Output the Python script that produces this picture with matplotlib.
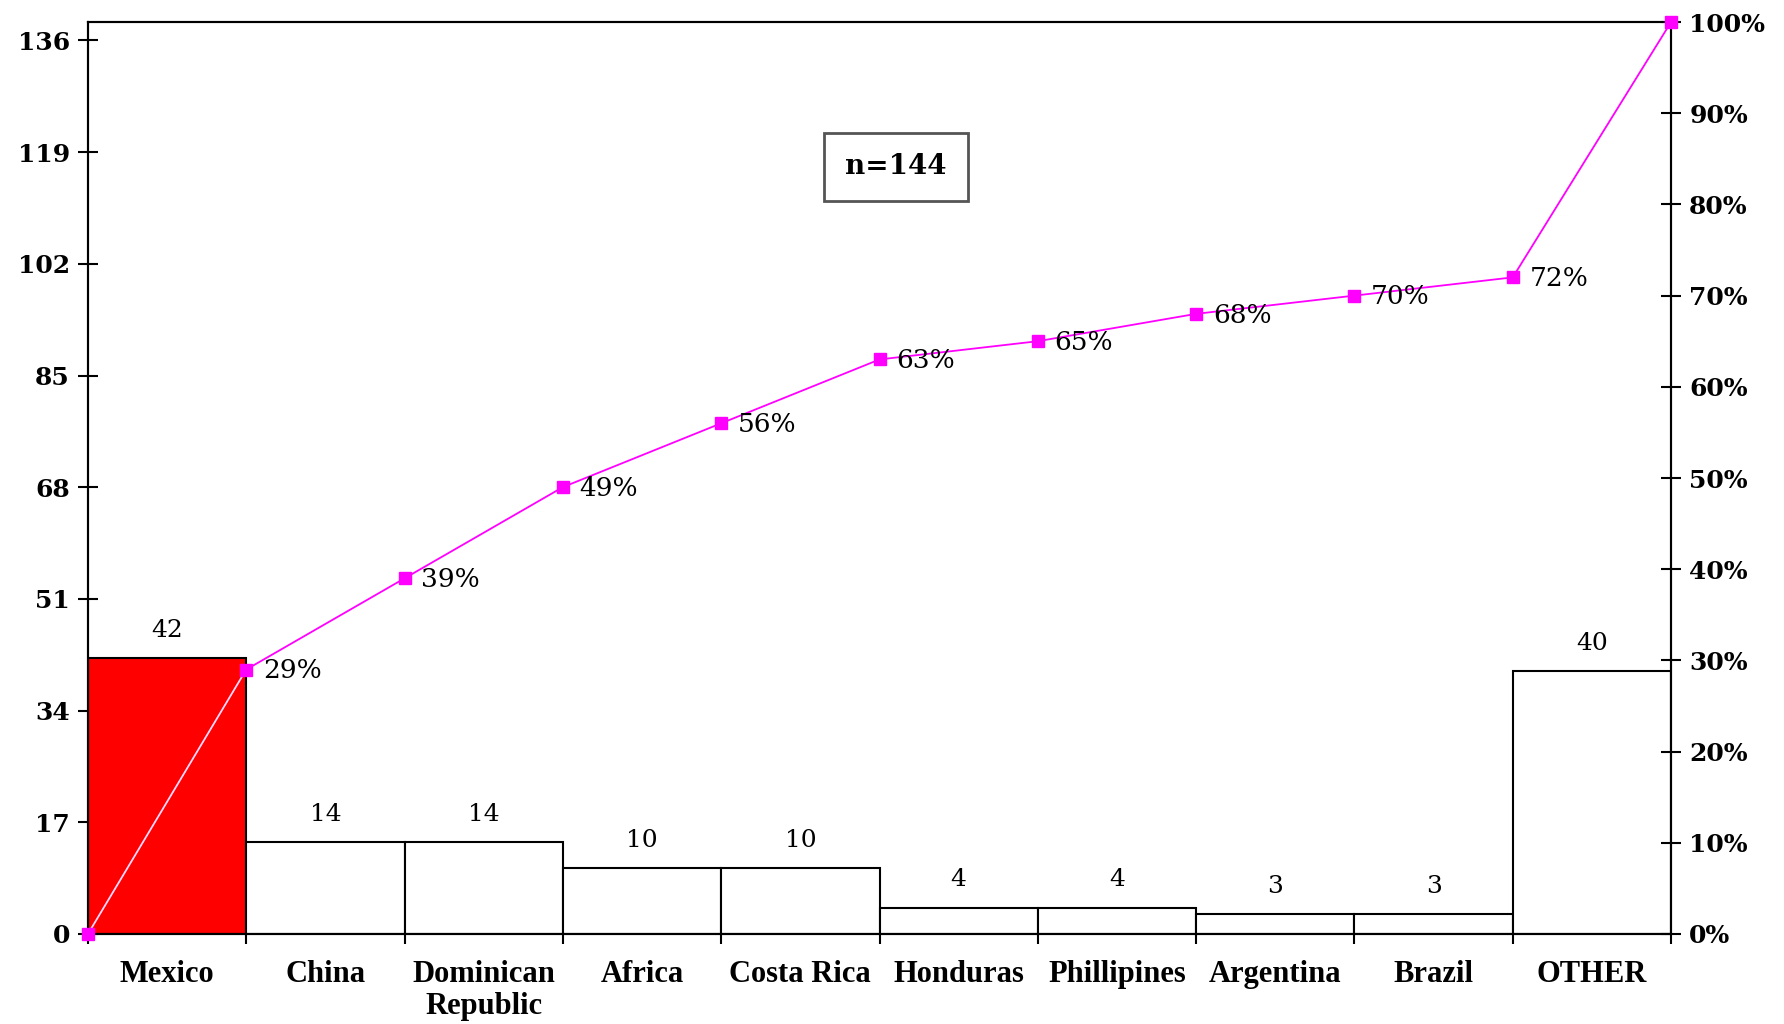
import matplotlib
matplotlib.use("Agg")
import matplotlib.pyplot as plt
import numpy as np

categories = ["Mexico", "China", "Dominican\nRepublic", "Africa", "Costa Rica",
              "Honduras", "Phillipines", "Argentina", "Brazil", "OTHER"]
counts = [42, 14, 14, 10, 10, 4, 4, 3, 3, 40]
cum_pct = [0, 29, 39, 49, 56, 63, 65, 68, 70, 72, 100]
cum_labels = ["29%", "39%", "49%", "56%", "63%", "65%", "68%", "70%", "72%", ""]
left_ticks = [0, 17, 34, 51, 68, 85, 102, 119, 136]
right_ticks = [0, 10, 20, 30, 40, 50, 60, 70, 80, 90, 100]
n_text = "n=144"

plt.rcParams['font.family'] = ['DejaVu Serif']
NUMFONT = ['DejaVu Serif']
CATFONT = ['Liberation Serif', 'DejaVu Serif']

fig = plt.figure(figsize=(17.84, 10.24), dpi=100)
ax = fig.add_axes([0.0493, 0.0879, 0.8874, 0.8906])

xpos = np.arange(len(categories))
colors = ['#ff0000'] + ['white'] * (len(categories) - 1)
ax.bar(xpos, counts, width=1.0, align='edge', color=colors, edgecolor='black', linewidth=1.5, zorder=2)

for x, v in zip(xpos, counts):
    ax.annotate(str(v), (x + 0.5, v), xytext=(0, 20), textcoords='offset points',
                ha='center', va='center', fontsize=18, color='black', family=NUMFONT)

ax.set_xlim(0, len(categories))
ax.set_ylim(0, 138.8)
ax.set_yticks(left_ticks)
ax.set_yticklabels([str(t) for t in left_ticks], fontsize=18, fontweight='bold', family=NUMFONT)
ax.tick_params(axis='y', direction='inout', length=14, width=1.5, pad=6)

ax.set_xticks(np.arange(len(categories) + 1), minor=True)
ax.set_xticks(xpos + 0.5)
ax.set_xticklabels(categories, fontsize=22, fontweight='bold', linespacing=1.1, family=CATFONT)
ax.tick_params(axis='x', which='major', length=0, pad=19)
ax.tick_params(axis='x', which='minor', direction='out', length=7, width=1.5)

for s in ax.spines.values():
    s.set_linewidth(1.5)

ax2 = ax.twinx()
ax2.set_ylim(0, 100)
ax2.set_yticks(right_ticks)
ax2.set_yticklabels([f"{t}%" for t in right_ticks], fontsize=18, fontweight='bold', family=NUMFONT)
ax2.tick_params(axis='y', direction='inout', length=14, width=1.5, pad=6)
for s in ax2.spines.values():
    s.set_linewidth(1.5)

cx = np.arange(len(cum_pct))
ax2.plot(cx[:2], cum_pct[:2], color='#ffd8ff', linewidth=1.3, zorder=3, clip_on=False)
ax2.plot(cx[1:], cum_pct[1:], color='#ff00ff', linewidth=1.3, zorder=3, clip_on=False)
ax2.plot(cx, cum_pct, linestyle='none', marker='s', markersize=8, color='#ff00ff', zorder=4, clip_on=False)
for x, y, lab in zip(cx[1:], cum_pct[1:], cum_labels):
    if lab:
        ax2.annotate(lab, (x, y), xytext=(12, -1), textcoords='offset points',
                     ha='left', va='center', fontsize=19, color='black', family=NUMFONT)

fig.text(896 / 1784, 1 - 167 / 1024, n_text, ha='center', va='center', fontsize=20,
         fontweight='bold', family=NUMFONT,
         bbox=dict(boxstyle='square,pad=0.75', facecolor='white', edgecolor='#555555', linewidth=2))

fig.savefig("out.png", dpi=100)
